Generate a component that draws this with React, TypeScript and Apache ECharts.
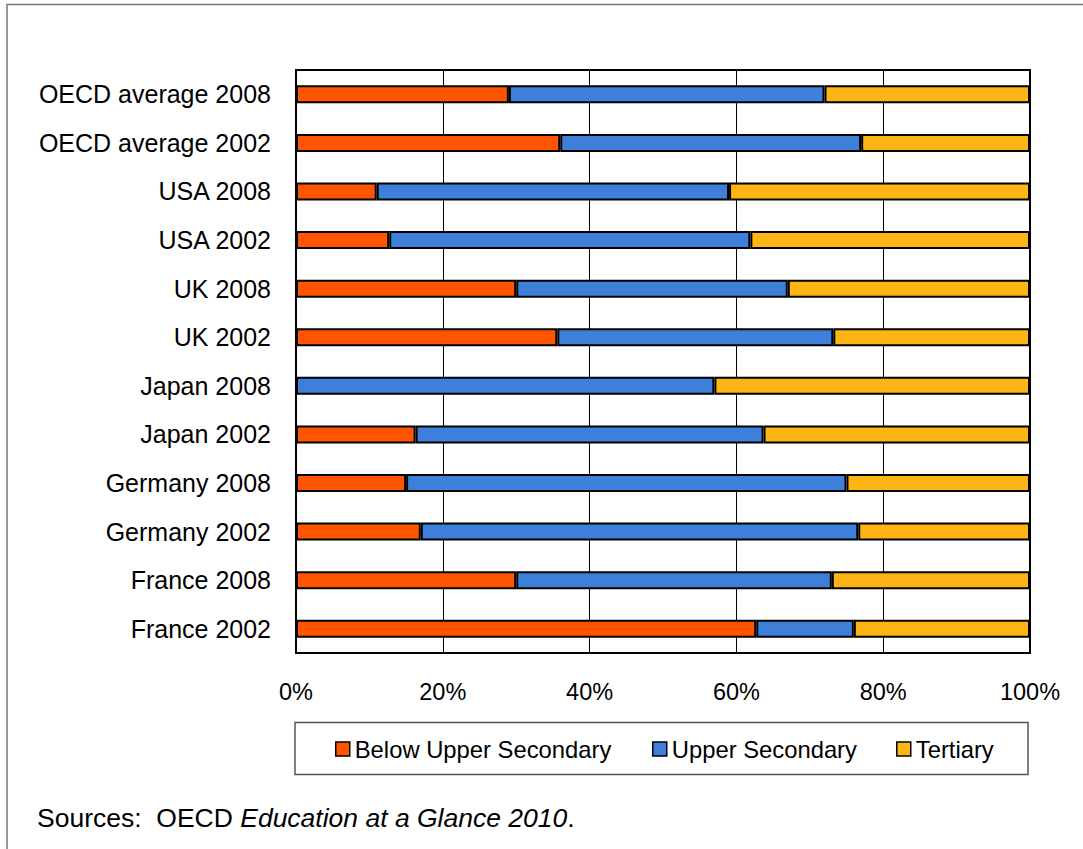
import React, { useEffect, useRef } from "react";
import * as echarts from "echarts";

const categories = [
  "OECD average 2008",
  "OECD average 2002",
  "USA 2008",
  "USA 2002",
  "UK 2008",
  "UK 2002",
  "Japan 2008",
  "Japan 2002",
  "Germany 2008",
  "Germany 2002",
  "France 2008",
  "France 2002",
];

const belowUpperSecondary = [29, 36, 11, 12.7, 30, 35.6, 0, 16.3, 15, 17, 30, 62.7];
const upperSecondary = [43, 41, 48, 49.2, 37, 37.6, 57, 47.4, 60, 59.6, 43, 13.3];
const tertiary = [28, 23, 41, 38.1, 33, 26.8, 43, 36.3, 25, 23.4, 27, 24];

const xTicks = [0, 20, 40, 60, 80, 100];

const seriesNames = ["Below Upper Secondary", "Upper Secondary", "Tertiary"];
const colors = ["#FF5500", "#3D7FD9", "#FDB515"];

const FONT = "Arial, 'Liberation Sans', Helvetica, sans-serif";

export default function App() {
  const ref = useRef<HTMLDivElement>(null);

  useEffect(() => {
    if (!ref.current) return;
    const chart = echarts.init(ref.current, null, { renderer: "svg" });
    const dataSets = [belowUpperSecondary, upperSecondary, tertiary];
    const legendLefts = [335, 652, 896];

    chart.setOption({
      animation: false,
      backgroundColor: "#ffffff",
      textStyle: { fontFamily: FONT },
      grid: {
        left: 296,
        top: 70,
        width: 734,
        height: 583,
        show: true,
        borderColor: "#000",
        borderWidth: 2,
        containLabel: false,
      },
      xAxis: {
        type: "value",
        min: xTicks[0],
        max: xTicks[xTicks.length - 1],
        interval: 20,
        axisLine: { show: true, lineStyle: { color: "#000", width: 2 } },
        axisTick: { show: false },
        axisLabel: {
          formatter: "{value}%",
          color: "#000",
          fontSize: 23.5,
          fontFamily: FONT,
          margin: 27,
        },
        splitLine: { show: true, lineStyle: { color: "#000", width: 1 } },
      },
      yAxis: {
        type: "category",
        data: categories,
        inverse: true,
        axisLine: { show: true, lineStyle: { color: "#000", width: 2 } },
        axisTick: { show: false },
        axisLabel: {
          color: "#000",
          fontSize: 25,
          fontFamily: FONT,
          margin: 25,
        },
        splitLine: { show: false },
      },
      legend: seriesNames.map((name, i) => ({
        data: [name],
        left: legendLefts[i],
        top: 737,
        orient: "horizontal",
        icon: "rect",
        itemWidth: 14,
        itemHeight: 14,
        padding: 0,
        selectedMode: false,
        itemStyle: { borderColor: "#000", borderWidth: 1.5 },
        textStyle: { color: "#000", fontSize: 23.8, fontFamily: FONT, padding: [0, 0, 0, 0] },
      })),
      series: seriesNames.map((name, i) => ({
        name,
        type: "bar",
        stack: "total",
        data: dataSets[i],
        barWidth: 18,
        itemStyle: { color: colors[i], borderColor: "#000", borderWidth: 2 },
        emphasis: { disabled: true },
      })),
      graphic: [
        {
          type: "rect",
          shape: { x: 7, y: 4.5, width: 1200, height: 1000 },
          style: { fill: "none", stroke: "#777", lineWidth: 1.5 },
          silent: true,
        },
        {
          type: "rect",
          shape: { x: 295, y: 722.5, width: 733, height: 52 },
          style: { fill: "none", stroke: "#555", lineWidth: 1.5 },
          silent: true,
        },
        {
          type: "text",
          x: 37,
          y: 818,
          style: {
            text: "{n|Sources:\u00a0\u00a0OECD }{i|Education at a Glance 2010}{n|.}",
            verticalAlign: "middle",
            align: "left",
            rich: {
              n: { fontSize: 26.5, fontFamily: FONT, fill: "#000", color: "#000" },
              i: { fontSize: 26.5, fontFamily: FONT, fontStyle: "italic", fill: "#000", color: "#000" },
            },
          },
          silent: true,
        },
      ],
    });

    return () => chart.dispose();
  }, []);

  return (
    <div
      ref={ref}
      style={{ position: "fixed", left: 0, top: 0, width: 1083, height: 849, background: "#fff" }}
    />
  );
}
